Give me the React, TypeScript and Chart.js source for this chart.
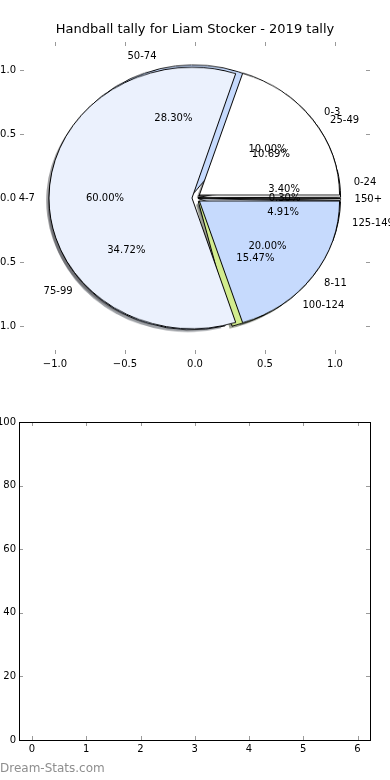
import React, { useEffect, useRef } from 'react';
import { Chart, registerables } from 'chart.js';

Chart.register(...registerables);

// ---------------- data ----------------
const TITLE = 'Handball tally for Liam Stocker - 2019 tally';
const WATERMARK = 'Dream-Stats.com';

// pie drawn first (underneath)
const LABELS_A = ['0-24', '25-49', '50-74', '75-99', '100-124', '125-149', '150+'];
const VALUES_A = [3.4, 10.69, 28.3, 34.72, 15.47, 4.91, 0.3];
const PCT_A = ['3.40%', '10.69%', '28.30%', '34.72%', '15.47%', '4.91%', '0.30%'];

// pie drawn second (on top)
const LABELS_B = ['0-3', '4-7', '8-11'];
const VALUES_B = [20, 60, 20];
const PCT_B = ['10.00%', '60.00%', '20.00%'];

const X_TICKS_TOP = [-1, -0.5, 0, 0.5, 1];
const Y_TICKS_TOP = [-1, -0.5, 0, 0.5, 1];
const X_TICKS_BOTTOM = [0, 1, 2, 3, 4, 5, 6];
const Y_TICKS_BOTTOM = [0, 20, 40, 60, 80, 100];

// ---------------- styles ----------------
const COLORS_A = ['#FFFFFF', '#FFFFFF', '#C6DAFD', '#C6DAFD', '#D2EC8E', '#EBF1FD', '#FFFFFF'];
const EXPLODE_A = [0.04, 0.04, 0.04, 0.04, 0.04, 0.04, 0.04];
const COLORS_B = ['#FFFFFF', '#EBF1FD', '#C6DAFD'];
const EXPLODE_B = [0.04, 0.043, 0.04];

const FONT = 'DejaVu Sans';
const PIE_R = 140; // px per data unit horizontally
const PIE_CANVAS = 320;
const Y_SCALE = 128 / 140;
const LABEL_DIST = 1.1;
const PCT_DIST = 0.6;
const SHADOW = 0.02;
const TICK_COLOR = '#9a9a9a';

function hexToRgb(h: string) {
  const n = parseInt(h.slice(1), 16);
  return [(n >> 16) & 255, (n >> 8) & 255, n & 255];
}

function rev<T>(a: T[]): T[] {
  return a.slice().reverse();
}

// chart.js offset that gives a translation of e*PIE_R pixels
function offsetsFor(values: number[], explode: number[]) {
  const sum = values.reduce((a, b) => a + b, 0);
  return values.map((v, i) => {
    const circ = (2 * Math.PI * v) / sum;
    const t = explode[i] * PIE_R;
    return (4 * t) / (2 - Math.sin(Math.min(Math.PI, circ)));
  });
}

function arcTranslation(el: any) {
  const circ = el.endAngle - el.startAngle;
  const off = (el.options.offset || 0) / 4;
  const fix = 1 - Math.sin(Math.min(Math.PI, circ || 0));
  const t = off * (1 + fix);
  const half = (el.startAngle + el.endAngle) / 2;
  return [Math.cos(half) * t, Math.sin(half) * t];
}

function drawShadows(ctx: CanvasRenderingContext2D, chart: any) {
  const meta = chart.getDatasetMeta(0);
  meta.data.forEach((el: any) => {
    const [tx, ty] = arcTranslation(el);
    const cx = el.x + tx - SHADOW * PIE_R;
    const cy = el.y + ty + SHADOW * PIE_R;
    const [r, g, b] = hexToRgb(el.options.backgroundColor);
    ctx.save();
    ctx.beginPath();
    ctx.moveTo(cx, cy);
    ctx.arc(cx, cy, el.outerRadius, el.startAngle, el.endAngle);
    ctx.closePath();
    ctx.fillStyle = `rgba(${Math.round(r * 0.3)},${Math.round(g * 0.3)},${Math.round(b * 0.3)},0.5)`;
    ctx.fill();
    ctx.restore();
  });
}

function pieConfig(values: number[], colors: string[], explode: number[], labels: string[], extraPlugins: any[]) {
  return {
    type: 'pie' as const,
    data: {
      labels: rev(labels),
      datasets: [
        {
          data: rev(values),
          backgroundColor: rev(colors),
          borderColor: '#000000',
          borderWidth: 1,
          offset: rev(offsetsFor(values, explode)),
        },
      ],
    },
    options: {
      responsive: false,
      animation: false as const,
      events: [] as any[],
      radius: PIE_R,
      rotation: 90,
      layout: { padding: 0 },
      plugins: { legend: { display: false }, tooltip: { enabled: false }, title: { display: false } },
    },
    plugins: extraPlugins,
  };
}

const innerTicks = (frame: boolean) => ({
  id: 'innerTicks',
  afterDraw(chart: any) {
    const { ctx, chartArea: a, scales } = chart;
    ctx.save();
    ctx.strokeStyle = TICK_COLOR;
    ctx.lineWidth = 1;
    const L = 4;
    scales.x.ticks.forEach((t: any) => {
      const x = Math.round(scales.x.getPixelForValue(t.value)) + 0.5;
      ctx.beginPath();
      ctx.moveTo(x, a.top);
      ctx.lineTo(x, a.top + L);
      ctx.moveTo(x, a.bottom);
      ctx.lineTo(x, a.bottom - L);
      ctx.stroke();
    });
    scales.y.ticks.forEach((t: any) => {
      const y = Math.round(scales.y.getPixelForValue(t.value)) + 0.5;
      ctx.beginPath();
      ctx.moveTo(a.left, y);
      ctx.lineTo(a.left + L, y);
      ctx.moveTo(a.right, y);
      ctx.lineTo(a.right - L, y);
      ctx.stroke();
    });
    if (frame) {
      ctx.strokeStyle = '#000000';
      ctx.strokeRect(Math.round(a.left) + 0.5, Math.round(a.top) + 0.5, Math.round(a.right - a.left), Math.round(a.bottom - a.top));
    }
    ctx.restore();
  },
});

const titlePlugin = {
  id: 'mplTitle',
  afterDraw(chart: any) {
    const { ctx, chartArea: a } = chart;
    ctx.save();
    ctx.font = `13px "${FONT}"`;
    ctx.fillStyle = '#000';
    ctx.textAlign = 'center';
    ctx.textBaseline = 'middle';
    ctx.fillText(TITLE, (a.left + a.right) / 2, a.top - 12);
    ctx.restore();
  },
};

function drawPieTexts(chart: any, labels: string[], values: number[], pcts: string[], explode: number[]) {
  const { ctx, scales } = chart;
  const sum = values.reduce((a, b) => a + b, 0);
  let cum = 0;
  values.forEach((v, i) => {
    const th = (2 * Math.PI * (cum + v / 2)) / sum;
    cum += v;
    const c = Math.cos(th);
    const s = Math.sin(th);
    const e = explode[i];
    const lx = (e + LABEL_DIST) * c;
    const ly = (e + LABEL_DIST) * s;
    ctx.textBaseline = 'middle';
    ctx.textAlign = lx > 0 ? 'left' : 'right';
    ctx.fillText(labels[i], scales.x.getPixelForValue(lx), scales.y.getPixelForValue(ly));
    const px = (e + PCT_DIST) * c;
    const py = (e + PCT_DIST) * s;
    ctx.textAlign = 'center';
    ctx.fillText(pcts[i], scales.x.getPixelForValue(px), scales.y.getPixelForValue(py));
  });
}

const pieTextPlugin = {
  id: 'pieTexts',
  afterDraw(chart: any) {
    const { ctx } = chart;
    ctx.save();
    ctx.font = `10px "${FONT}"`;
    ctx.fillStyle = '#000';
    drawPieTexts(chart, LABELS_A, VALUES_A, PCT_A, EXPLODE_A);
    drawPieTexts(chart, LABELS_B, VALUES_B, PCT_B, EXPLODE_B);
    ctx.restore();
  },
};

const fmtTop = (v: number) => (v < 0 ? '\u2212' + Math.abs(v).toFixed(1) : v.toFixed(1));

function axisOpts(min: number, max: number, ticks: number[], fmt: (v: number) => string, fit: (s: any) => void, pad: number) {
  return {
    type: 'linear' as const,
    min,
    max,
    afterBuildTicks: (s: any) => {
      s.ticks = ticks.map((v) => ({ value: v }));
    },
    afterFit: fit,
    grid: { display: false, drawTicks: false },
    border: { display: false },
    ticks: {
      padding: pad,
      color: '#000',
      font: { family: FONT, size: 10 },
      maxRotation: 0,
      autoSkip: false,
      callback: (v: any) => fmt(Number(v)),
    },
  };
}

export default function App() {
  const topRef = useRef<HTMLCanvasElement>(null);
  const pieARef = useRef<HTMLCanvasElement>(null);
  const pieBRef = useRef<HTMLCanvasElement>(null);
  const bottomRef = useRef<HTMLCanvasElement>(null);

  useEffect(() => {
    const charts: Chart[] = [];

    const chB = new Chart(pieBRef.current as HTMLCanvasElement, pieConfig(VALUES_B, COLORS_B, EXPLODE_B, LABELS_B, []) as any);
    charts.push(chB);

    const shadowPlugin = {
      id: 'mplShadows',
      beforeDatasetsDraw(chart: any) {
        drawShadows(chart.ctx, chart);
        drawShadows(chart.ctx, chB);
      },
    };
    const chA = new Chart(pieARef.current as HTMLCanvasElement, pieConfig(VALUES_A, COLORS_A, EXPLODE_A, LABELS_A, [shadowPlugin]) as any);
    charts.push(chA);

    const chTop = new Chart(topRef.current as HTMLCanvasElement, {
      type: 'scatter',
      data: { datasets: [] },
      options: {
        responsive: false,
        animation: false,
        events: [],
        layout: { padding: { top: 42, right: 20, left: 0, bottom: 0 } },
        plugins: { legend: { display: false }, tooltip: { enabled: false } },
        scales: {
          x: axisOpts(-1.25, 1.25, X_TICKS_TOP, fmtTop, (s: any) => { s.height = 26; }, 4),
          y: axisOpts(-1.21875, 1.21875, Y_TICKS_TOP, fmtTop, (s: any) => { s.width = 40; }, 4),
        },
      },
      plugins: [innerTicks(false), titlePlugin, pieTextPlugin],
    } as any);
    charts.push(chTop);

    const chBottom = new Chart(bottomRef.current as HTMLCanvasElement, {
      type: 'scatter',
      data: { datasets: [] },
      options: {
        responsive: false,
        animation: false,
        events: [],
        layout: { padding: { top: 42, right: 20, left: 0, bottom: 0 } },
        plugins: { legend: { display: false }, tooltip: { enabled: false } },
        scales: {
          x: axisOpts(-0.24, 6.23, X_TICKS_BOTTOM, (v) => String(v), (s: any) => { s.height = 40; }, 3),
          y: axisOpts(0, 100, Y_TICKS_BOTTOM, (v) => String(v), (s: any) => { s.width = 39; }, 3),
        },
      },
      plugins: [innerTicks(true)],
    } as any);
    charts.push(chBottom);

    return () => {
      charts.forEach((c) => c.destroy());
    };
  }, []);

  const pieStyle = (z: number): React.CSSProperties => ({
    position: 'absolute',
    left: 35,
    top: 38,
    width: PIE_CANVAS,
    height: PIE_CANVAS,
    transform: `scaleY(${Y_SCALE})`,
    transformOrigin: `${PIE_CANVAS / 2}px ${PIE_CANVAS / 2}px`,
    zIndex: z,
  });

  return (
    <div
      style={{
        position: 'absolute',
        left: 0,
        top: 0,
        width: 390,
        height: 780,
        overflow: 'hidden',
        background: '#ffffff',
        fontFamily: FONT,
      }}
    >
      <canvas ref={pieARef} width={PIE_CANVAS} height={PIE_CANVAS} style={pieStyle(1)} />
      <canvas ref={pieBRef} width={PIE_CANVAS} height={PIE_CANVAS} style={pieStyle(2)} />
      <canvas
        ref={topRef}
        width={410}
        height={380}
        style={{ position: 'absolute', left: -20, top: 0, width: 410, height: 380, zIndex: 3 }}
      />
      <canvas
        ref={bottomRef}
        width={410}
        height={400}
        style={{ position: 'absolute', left: -20, top: 380, width: 410, height: 400, zIndex: 3 }}
      />
      <div
        style={{
          position: 'absolute',
          left: 0,
          top: 761,
          fontSize: 12,
          lineHeight: '14px',
          color: '#8e8e8e',
          fontFamily: FONT,
          zIndex: 4,
          whiteSpace: 'nowrap',
        }}
      >
        {WATERMARK}
      </div>
    </div>
  );
}
